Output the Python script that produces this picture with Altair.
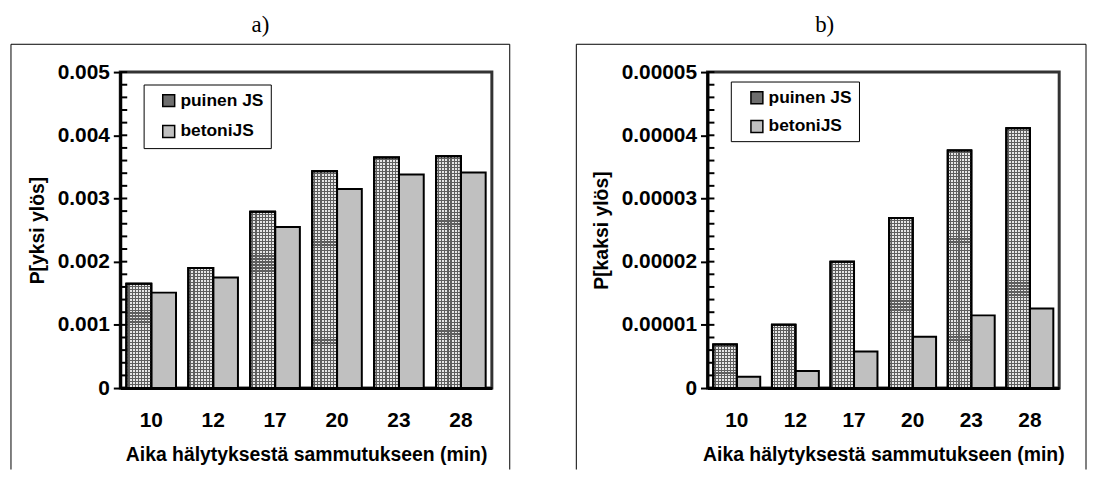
import altair as alt
import pandas as pd

FONT = "Liberation Sans"
SERIF = "Liberation Serif"

times = ["10", "12", "17", "20", "23", "28"]
series_names = ["puinen JS", "betoniJS"]

a_puinen = [0.00165, 0.0019, 0.00279, 0.00343, 0.00365, 0.00367]
a_betoni = [0.00151, 0.00175, 0.00255, 0.00315, 0.00338, 0.00341]
b_puinen = [0.0000069, 0.0000100, 0.0000200, 0.0000269, 0.0000376, 0.0000411]
b_betoni = [0.0000018, 0.0000027, 0.0000058, 0.0000081, 0.0000115, 0.0000126]

a_major = [0, 0.001, 0.002, 0.003, 0.004, 0.005]
b_major = [0, 0.00001, 0.00002, 0.00003, 0.00004, 0.00005]
a_minor_step = 0.0002
b_minor_step = 0.000002

LIGHT = "#e6e6e6"
LINE = "#5e5e5e"
CLEAR = "rgba(255,255,255,0)"


def stripes(n, light, dark, vertical):
    frac = 0.36
    stops = []
    for k in range(n):
        a = k / n
        b = (k + 1 - frac) / n
        c = (k + 1) / n
        stops += [(a, light), (b, light), (b, dark), (c, dark)]
    if vertical:
        coords = dict(x1=0, x2=1, y1=0, y2=0)
    else:
        coords = dict(x1=0, x2=0, y1=0, y2=1)
    return alt.LinearGradient(
        gradient="linear",
        stops=[alt.GradientStop(offset=o, color=c) for o, c in stops],
        **coords,
    )


def panel(puinen, betoni, major, minor_step, ytitle, label, W, H,
          frame_left, frame_right, title_x, box, legend_x, legend_y, row_pad):
    df = pd.DataFrame({
        "time": times * 2,
        "series": [series_names[0]] * 6 + [series_names[1]] * 6,
        "value": puinen + betoni,
    })
    ymax = major[-1]
    ticks_df = pd.DataFrame({"value": [round(i * minor_step, 12) for i in range(0, 26)]})
    one = pd.DataFrame({"d": [0]})

    xaxis = alt.Axis(title="Aika hälytyksestä sammutukseen (min)",
                     labelAngle=0, ticks=False, labelPadding=22,
                     titlePadding=15, domainWidth=3, domainColor="black",
                     labelFontSize=21, titleFontSize=19.5)
    yaxis = alt.Axis(title=ytitle, values=major, format="~g", grid=False,
                     tickSize=7, tickWidth=2, tickColor="black",
                     domainWidth=3, domainColor="black",
                     labelPadding=4, titlePadding=10,
                     labelFontSize=21, titleFontSize=19.5)
    xscale = alt.Scale(paddingInner=0.2, paddingOuter=0.1)
    yscale = alt.Scale(domain=[0, ymax], nice=False)
    xenc = alt.X("time:N", sort=times, scale=xscale, axis=xaxis)
    xoff = alt.XOffset("series:N", sort=series_names,
                       scale=alt.Scale(domain=series_names, paddingInner=0, paddingOuter=0))
    yenc = alt.Y("value:Q", scale=yscale, axis=yaxis)

    legend_box = alt.Chart(one).mark_rect(fill="white", stroke="black", strokeWidth=1).encode(
        x=alt.value(box[0]), x2=alt.value(box[1]), y=alt.value(box[2]), y2=alt.value(box[3]))

    bars = alt.Chart(df).mark_bar(stroke="black", strokeWidth=2).encode(
        x=xenc, xOffset=xoff, y=yenc,
        color=alt.Color("series:N", sort=series_names,
                        scale=alt.Scale(domain=series_names, range=["#6e6e6e", "#c0c0c0"]),
                        legend=alt.Legend(orient="none", legendX=legend_x, legendY=legend_y,
                                          title=None, padding=0,
                                          symbolType="square", symbolSize=144,
                                          symbolStrokeColor="black", symbolStrokeWidth=1.5,
                                          labelFont=FONT, labelFontSize=17.5,
                                          labelFontWeight="bold", labelColor="black",
                                          rowPadding=row_pad, labelOffset=3)),
    )
    # vertical hatch lines on the wooden-frame bars
    vhatch = alt.Chart(df).transform_filter(
        alt.datum.series == series_names[0]
    ).mark_bar(stroke="black", strokeWidth=2, fill=stripes(8, LIGHT, LINE, True)).encode(
        x=xenc, xOffset=xoff, y=yenc,
    )
    # horizontal hatch lines, one layer per bar so spacing stays ~3 px
    hlayers = []
    for t, v in zip(times, puinen):
        n = max(1, round(v / ymax * H / 3))
        hlayers.append(
            alt.Chart(df).transform_filter(
                (alt.datum.series == series_names[0]) & (alt.datum.time == t)
            ).mark_bar(stroke="black", strokeWidth=2,
                       fill=stripes(n, CLEAR, LINE, False)).encode(
                x=xenc, xOffset=xoff, y=yenc,
            )
        )
    minor = alt.Chart(ticks_df).mark_rule(color="black", strokeWidth=2).encode(
        y=yenc, x=alt.value(0), x2=alt.value(7),
    )
    frame_layers = [
        alt.Chart(one).mark_rule(color="black", strokeWidth=1).encode(
            x=alt.value(frame_left), x2=alt.value(frame_left),
            y=alt.value(-28), y2=alt.value(400)),
        alt.Chart(one).mark_rule(color="black", strokeWidth=1).encode(
            x=alt.value(frame_left), x2=alt.value(frame_right),
            y=alt.value(-28), y2=alt.value(-28)),
    ]
    if frame_right < W + 30:
        frame_layers.append(
            alt.Chart(one).mark_rule(color="black", strokeWidth=1).encode(
                x=alt.value(frame_right), x2=alt.value(frame_right),
                y=alt.value(-28), y2=alt.value(400)))
    title = alt.Chart(one).mark_text(
        text=label, font=SERIF, fontSize=23, baseline="middle", align="center", color="black"
    ).encode(x=alt.value(title_x), y=alt.value(-47))

    return alt.layer(*frame_layers, legend_box, bars, vhatch, *hlayers, minor, title).properties(
        width=W, height=H)


pa = panel(a_puinen, a_betoni, a_major, a_minor_step, "P[yksi ylös]", "a)",
           374, 318, -110, 392, 141, (24, 152, 13, 77), 40, 20, 12)
pb = panel(b_puinen, b_betoni, b_major, b_minor_step, "P[kaksi ylös]", "b)",
           354, 318, -132, 381, 118, (24, 153, 10, 70), 41, 17, 10)

chart = alt.hconcat(pa, pb, spacing=63).resolve_scale(
    x="independent", y="independent", color="independent", xOffset="independent"
).resolve_legend(color="independent").properties(
    padding={"left": 1, "top": 3, "right": 0, "bottom": 0}
).configure_view(stroke="#333333", strokeWidth=3).configure_axis(
    labelFont=FONT, titleFont=FONT, labelFontWeight="bold", titleFontWeight="bold",
    labelColor="black", titleColor="black"
)

chart.save("out.html", embed_options={"renderer": "svg", "actions": False})
